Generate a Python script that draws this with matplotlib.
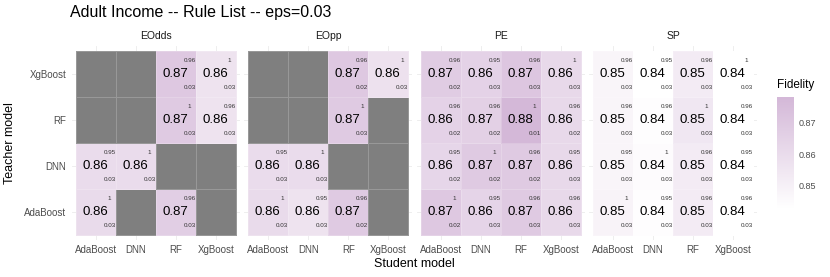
import numpy as np
import matplotlib
matplotlib.use("Agg")
import matplotlib.pyplot as plt
from matplotlib.colors import LinearSegmentedColormap, Normalize

plt.rcParams['font.family'] = ['Liberation Sans', 'DejaVu Sans']

W, H = 830, 277
nan = np.nan

title = "Adult Income -- Rule List -- eps=0.03"
metrics = ["EOdds", "EOpp", "PE", "SP"]
students = ["AdaBoost", "DNN", "RF", "XgBoost"]
teachers = ["AdaBoost", "DNN", "RF", "XgBoost"]  # bottom -> top

# fidelity (rows = teachers AdaBoost, DNN, RF, XgBoost; cols = students)
fid_EOdds = [[0.861, nan, 0.867, nan],
             [0.860, 0.860, nan, nan],
             [nan, nan, 0.869, 0.857],
             [nan, nan, 0.870, 0.857]]
fid_EOpp = [[0.861, 0.857, 0.869, nan],
            [0.860, 0.860, nan, nan],
            [nan, nan, 0.869, nan],
            [nan, nan, 0.870, 0.858]]
fid_PE = [[0.870, 0.864, 0.869, 0.862],
          [0.863, 0.869, 0.869, 0.862],
          [0.865, 0.866, 0.878, 0.862],
          [0.868, 0.865, 0.871, 0.862]]
fid_SP = [[0.849, 0.844, 0.853, 0.843],
          [0.848, 0.845, 0.853, 0.843],
          [0.848, 0.844, 0.855, 0.843],
          [0.848, 0.843, 0.853, 0.843]]

top_EOdds = [[1, nan, 0.96, nan],
             [0.95, 1, nan, nan],
             [nan, nan, 1, 0.96],
             [nan, nan, 0.96, 1]]
top_EOpp = [[1, 0.95, 0.96, nan],
            [0.95, 1, nan, nan],
            [nan, nan, 1, nan],
            [nan, nan, 0.96, 1]]
top_PE = [[1, 0.95, 0.96, 0.96],
          [0.95, 1, 0.96, 0.95],
          [0.96, 0.96, 1, 0.96],
          [0.96, 0.95, 0.96, 1]]
top_SP = [[1, 0.95, 0.96, 0.96],
          [0.95, 1, 0.96, 0.95],
          [0.96, 0.96, 1, 0.96],
          [0.96, 0.95, 0.96, 1]]

bot_EOdds = [[0.03, nan, 0.03, nan],
             [0.03, 0.03, nan, nan],
             [nan, nan, 0.03, 0.03],
             [nan, nan, 0.03, 0.03]]
bot_EOpp = [[0.03, 0.03, 0.02, nan],
            [0.03, 0.03, nan, nan],
            [nan, nan, 0.03, nan],
            [nan, nan, 0.02, 0.03]]
bot_PE = [[0.02, 0.03, 0.03, 0.03],
          [0.02, 0.02, 0.02, 0.03],
          [0.02, 0.02, 0.01, 0.02],
          [0.02, 0.03, 0.03, 0.03]]
bot_SP = [[0.03, 0.03, 0.03, 0.03],
          [0.03, 0.03, 0.03, 0.03],
          [0.03, 0.03, 0.03, 0.03],
          [0.03, 0.03, 0.03, 0.03]]

fids = [fid_EOdds, fid_EOpp, fid_PE, fid_SP]
tops = [top_EOdds, top_EOpp, top_PE, top_SP]
bots = [bot_EOdds, bot_EOpp, bot_PE, bot_SP]

cbar_ticks = [0.85, 0.86, 0.87]
vmin, vmax = 0.843, 0.878

cmap = LinearSegmentedColormap.from_list("fid", ["#ffffff", "#d4b8d8"])
cmap.set_bad("#7f7f7f")
norm = Normalize(vmin=vmin, vmax=vmax)

fig = plt.figure(figsize=(W / 100, H / 100), dpi=100)


def rect(x0, y0, x1, y1):
    return [x0 / W, 1 - y1 / H, (x1 - x0) / W, (y1 - y0) / H]


def ftext(x, y, s, **kw):
    fig.text(x / W, 1 - y / H, s, **kw)


panel_lefts = [72, 244.3, 417, 589]
pw = 168
ptop, pbot = 46.4, 239.6
grid_c = "#ebebeb"
tick_c = "#4d4d4d"

for k, m in enumerate(metrics):
    x0 = panel_lefts[k]
    ax = fig.add_axes(rect(x0, ptop, x0 + pw, pbot))
    ax.set_xlim(-0.6, 3.6)
    ax.set_ylim(-0.6, 3.6)
    for p in range(4):
        ax.axvline(p, color=grid_c, lw=0.6, zorder=0)
        ax.axhline(p, color=grid_c, lw=0.6, zorder=0)
    data = np.ma.masked_invalid(np.array(fids[k], dtype=float))
    edges = np.arange(-0.5, 4.0, 1.0)
    ax.pcolormesh(edges, edges, data, cmap=cmap, norm=norm,
                  edgecolors=(1, 1, 1, 0.2), linewidth=0.4, zorder=1)
    f = np.array(fids[k], dtype=float)
    t = np.array(tops[k], dtype=float)
    b = np.array(bots[k], dtype=float)
    for i in range(4):
        for j in range(4):
            if np.isnan(f[i, j]):
                continue
            ax.text(j - 0.02, i, f"{f[i, j]:.2f}", ha="center", va="center",
                    fontsize=9.5, color="black", zorder=3)
            ax.text(j + 0.34, i + 0.3, f"{t[i, j]:g}", ha="center", va="center",
                    fontsize=4.5, color="#333333", zorder=3)
            ax.text(j + 0.34, i - 0.3, f"{b[i, j]:.2f}", ha="center", va="center",
                    fontsize=4.5, color="#333333", zorder=3)
    ax.set_xticks(range(4))
    ax.set_xticklabels(students, fontsize=7, color=tick_c)
    ax.set_yticks(range(4))
    if k == 0:
        ax.set_yticklabels(teachers, fontsize=7, color=tick_c)
    else:
        ax.set_yticklabels([])
    ax.tick_params(length=0, pad=4)
    for s in ax.spines.values():
        s.set_visible(False)
    ftext(x0 + pw / 2, 36, m, ha="center", va="center", fontsize=7.5, color="#1a1a1a")

ftext(70, 13, title, ha="left", va="center", fontsize=11.5, color="black")
ftext((72 + 757) / 2, 264, "Student model", ha="center", va="center", fontsize=9)
ftext(10, 143, "Teacher model", ha="center", va="center", fontsize=9, rotation=90)

# colorbar
cax = fig.add_axes(rect(777, 97, 794, 208))
grad = np.linspace(vmin, vmax, 256).reshape(-1, 1)
cax.imshow(grad, aspect="auto", cmap=cmap, norm=norm, origin="lower",
           extent=[0, 1, vmin, vmax])
cax.set_xlim(0, 1)
cax.set_ylim(vmin, vmax)
cax.set_xticks([])
cax.yaxis.tick_right()
cax.set_yticks(cbar_ticks)
cax.set_yticklabels([f"{v:.2f}" for v in cbar_ticks], fontsize=6.5, color=tick_c)
cax.tick_params(length=0, pad=3)
for s in cax.spines.values():
    s.set_visible(False)
ftext(777, 85, "Fidelity", ha="left", va="center", fontsize=8.5)

fig.savefig("out.png", dpi=100)
